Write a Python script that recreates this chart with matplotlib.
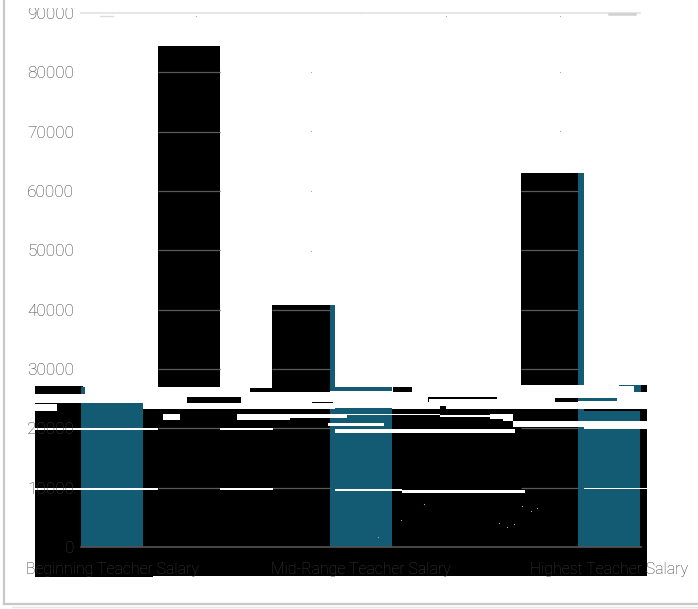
import matplotlib
matplotlib.use("Agg")
import matplotlib.pyplot as plt
from matplotlib.patches import Rectangle
from matplotlib.lines import Line2D
from matplotlib.transforms import Affine2D

categories = ["Beginning Teacher Salary", "Mid-Range Teacher Salary", "Highest Teacher Salary"]
low_values = [24300, 26900, 23000]
tall_values = [84400, 40800, 63000]
y_ticks = [0, 10000, 20000, 30000, 40000, 50000, 60000, 70000, 80000, 90000]

TEAL = "#135a73"
GRAY = "#3a3a3a"
W, H = 698, 609

# Corrupted bands of the reference, in image pixels: x0, x1, y0, y1
black_strips = [
    (35, 647, 409, 576), (35, 153, 576, 577), (35, 81, 403, 409), (35, 83, 386, 394),
    (250, 272, 388, 392), (393, 412, 387, 392),
    (143, 330, 408.5, 410), (440, 446, 406, 410), (641, 647, 385, 392),
    (428, 497, 397, 398.5), (428, 429, 397, 402), (641, 647, 410, 420),
]
erased_strips = [
    (158, 220, 387, 409), (272, 335, 392, 409), (521, 584, 385, 409), (330, 393, 391, 407.5),
]
black_over = [(187, 241, 397, 403), (312, 333, 401.5, 403), (555, 578, 398, 402)]
teal_strips = [
    (81, 85, 387, 394), (104, 119, 406, 409), (81, 104, 403, 409),
    (578, 617, 398, 401), (634, 641, 385, 392), (619, 641, 384.5, 385.5),
]
white_strips = [
    (35, 57, 404, 411), (163, 180, 414, 420), (237, 290, 414, 420), (290, 347, 414, 417.5),
    (347, 440, 414, 415), (328, 384, 423, 426), (335, 515, 429, 433),
    (440, 490, 415, 417), (490, 503, 414, 419), (503, 513, 414, 421), (513, 647, 421, 426.5),
    (35, 158, 427.5, 429.5), (220, 273, 428, 430), (35, 158, 488, 490), (220, 273, 488, 490),
    (335, 402, 489, 491), (402, 525, 490, 493), (584, 647, 487.5, 489), (584, 647, 427, 429),
]
specks = [(424, 504), (401, 520), (378, 537), (499, 523), (507, 527), (514, 524),
          (522, 506), (531, 511), (537, 508), (196, 16), (311, 72), (311, 131), (311, 191),
          (311, 251), (560, 72), (560, 131), (361, 13), (446, 16), (560, 16)]

plt.rcParams["font.family"] = ["Roboto", "DejaVu Sans"]
plt.rcParams["font.weight"] = "light"
fig = plt.figure(figsize=(W / 100, H / 100), dpi=100, facecolor="white")
ax = fig.add_axes([81 / W, 1 - 547 / H, (641 - 81) / W, (547 - 13) / H])
ax.set_facecolor("none")

unit = 248.5
ax.set_xlim((81 - 112) / unit, (641 - 112) / unit)
ax.set_ylim(0, 90000)
px = Affine2D().scale(1, -1).translate(0, H)


def strips(items, color, z):
    for x0, x1, y0, y1 in items:
        ax.add_patch(Rectangle((x0, y0), x1 - x0, y1 - y0, transform=px, facecolor=color,
                               edgecolor="none", clip_on=False, zorder=z))


strips(black_strips, "black", 0.8)

low_x = [0, 1, 2]
bar_w = 62.5 / unit
ax.bar(low_x, low_values, width=bar_w, color=TEAL, zorder=1)

tall_left = [(158 - 112) / unit, (272 - 112) / unit, (521 - 112) / unit]
tall_under = [62 / unit, 63 / unit, 63 / unit]
tall_cover = [62 / unit, 58 / unit, 57 / unit]
ax.bar(tall_left, tall_values, width=tall_under, align="edge", color=TEAL, zorder=1.1)
ax.bar(tall_left, tall_values, width=tall_cover, align="edge", color="black", zorder=1.2)

# grid shows only where a dark mark lies behind it
for left, width, value in zip(tall_left, tall_cover, tall_values):
    levels = [t for t in y_ticks if 0 < t < value]
    ax.hlines(levels, left, left + width, color="#5a5a5a", linewidth=0.9, zorder=1.25)

strips(erased_strips, "white", 1.4)
strips(black_over, "black", 1.45)
strips(teal_strips, TEAL, 1.45)
strips(white_strips, "white", 1.5)

ax.scatter([p[0] for p in specks], [p[1] for p in specks], s=0.8, color="#aaaaaa",
           transform=px, clip_on=False, zorder=1.6, linewidths=0)

ax.set_axisbelow(False)
ax.set_xticks(low_x, categories)
ax.set_yticks(y_ticks)
ax.tick_params(axis="both", length=0, labelcolor=GRAY)
ax.tick_params(axis="x", pad=11, labelsize=11.4)
ax.tick_params(axis="y", pad=5, labelsize=12.4)
for s in ["top", "right", "left"]:
    ax.spines[s].set_visible(False)
ax.spines["bottom"].set_color("#555555")
ax.spines["bottom"].set_linewidth(1.2)
ax.spines["bottom"].set_zorder(3)

# 90000 label is cut off by the image's blank top edge
fig.add_artist(Rectangle((0, 1 - 8 / H), 1, 8 / H, transform=fig.transFigure,
                         facecolor="white", edgecolor="none", zorder=10))
# outer frame and top rule
for xs, ys, c, lw in [((4, 4), (0, 604), "#c8c8c8", 1.6), ((4, 698), (604, 604), "#c8c8c8", 1.6),
                      ((12, 698), (607, 607), "#e6e6e6", 1.0), ((81, 640), (13, 13), "#e2e2e2", 1.2),
                      ((100, 113), (16, 16), "#dddddd", 1.0), ((609, 635), (14, 14), "#d0d0d0", 1.8)]:
    fig.add_artist(Line2D([x / W for x in xs], [1 - y / H for y in ys], color=c, linewidth=lw, zorder=11))

fig.savefig("out.png", dpi=100)
